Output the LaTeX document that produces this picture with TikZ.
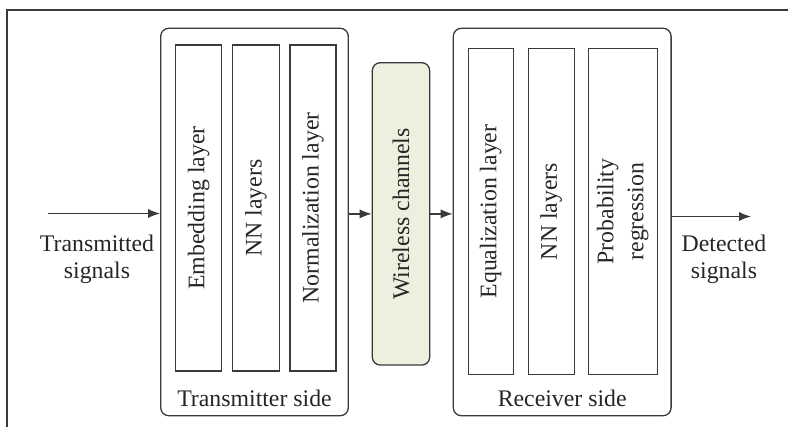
\documentclass[tikz,border=0pt]{standalone}
\usepackage{fontspec}
\setmainfont{Liberation Serif}
\usetikzlibrary{arrows.meta}
\definecolor{ln}{HTML}{3A3A3A}
\definecolor{tx}{HTML}{262626}
\definecolor{chan}{HTML}{EBF1DE}
\tikzset{
  lbl/.style={text=tx, font=\fontsize{11.9}{13.4}\selectfont, inner sep=0pt, align=center},
  outerbox/.style={draw=ln, line width=0.65pt, rounded corners=4pt, minimum width=#1, minimum height=193.7pt, inner sep=0pt},
  layerbox/.style={draw=ln, line width=0.65pt, rotate=90, minimum width=163pt, minimum height=#1, inner sep=0pt, text=tx, font=\fontsize{11.9}{15}\selectfont, align=center},
  chanbox/.style={draw=ln, fill=chan, line width=0.65pt, rounded corners=4pt, rotate=90, minimum width=151.2pt, minimum height=28.7pt, inner sep=0pt, text=tx, font=\fontsize{11.9}{15}\selectfont},
  conn/.style={draw=ln, line width=0.65pt, -{Latex[length=6pt,width=4.6pt]}}
}
\begin{document}
\begin{tikzpicture}[x=0.5pt,y=-0.5pt]
\useasboundingbox (0,0) rectangle (788,427);
% frame (top and left edges)
\draw[draw=ln, line width=0.65pt] (7,427) -- (7,10) -- (788,10);
% transmitter
\node[outerbox=93.8pt] (txs) at (254.5,222) {};
\node[layerbox=23pt] (emb) at (198.7,208) {Embedding layer};
\node[layerbox=23.3pt] (nn1) at (256,208) {NN layers};
\node[layerbox=23pt] (norm) at (313,208) {Normalization layer};
\node[lbl] (txl) at (254.5,398) {Transmitter side};
% channel
\node[chanbox] (wc) at (401,213.9) {Wireless channels};
% receiver
\node[outerbox=108.9pt] (rxs) at (562.2,222) {};
\node[layerbox=22.5pt] (eq) at (490.8,211.5) {Equalization layer};
\node[layerbox=23pt] (nn2) at (551.3,211.5) {NN layers};
\node[layerbox=34.5pt] (prob) at (622.8,211.5) {Probability\\regression};
\node[lbl] (rxl) at (562.2,398) {Receiver side};
% io labels
\node[lbl] (tsig) at (97,259) {Transmitted\\signals};
\node[lbl] (dsig) at (724,259) {Detected\\signals};
% connectors
\coordinate (in) at (48,213.5);
\coordinate (out) at (751,216.5);
\draw[conn] (in) -- (in -| txs.west);
\draw[conn] (txs.east |- wc.north) -- (wc.north);
\draw[conn] (wc.south) -- (rxs.west |- wc.south);
\draw[conn] (rxs.east |- out) -- (out);
\end{tikzpicture}
\end{document}
